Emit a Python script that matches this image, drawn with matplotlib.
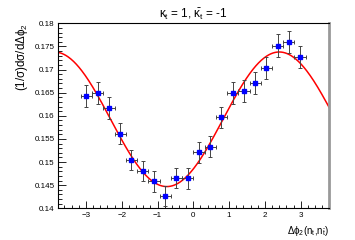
import numpy as np
import matplotlib
matplotlib.use("Agg")
import matplotlib.pyplot as plt
from matplotlib.ticker import MultipleLocator

plt.rcParams['font.family'] = ['Liberation Sans', 'DejaVu Sans']
plt.rcParams['mathtext.fontset'] = 'custom'
plt.rcParams['mathtext.rm'] = 'Liberation Sans'
plt.rcParams['mathtext.it'] = 'Liberation Sans'
plt.rcParams['mathtext.bf'] = 'Liberation Sans:bold'

# dane: 20 binow w dphi2 od -pi do pi
n_bins = 20
bin_edges = np.linspace(-np.pi, np.pi, n_bins + 1)
x_centers = 0.5 * (bin_edges[:-1] + bin_edges[1:])
x_err = 0.5 * np.diff(bin_edges)

y_vals = [0.1642, 0.1650, 0.1617, 0.1561, 0.1505, 0.1481, 0.1458, 0.1427,
          0.1465, 0.1465, 0.1521, 0.1533, 0.1597, 0.1650, 0.1654, 0.1671,
          0.1703, 0.1752, 0.1760, 0.1728]
y_err = [0.0024, 0.0024, 0.0023, 0.0023, 0.0022, 0.0022, 0.0022, 0.0022,
         0.0022, 0.0023, 0.0022, 0.0023, 0.0023, 0.0024, 0.0024, 0.0024,
         0.0024, 0.0024, 0.0024, 0.0024]

# parametry dopasowania: a - b*cos(x - phi0)
fit_a = 0.15925
fit_b = 0.01455
fit_phi0 = -0.74

x_min, x_max = -3.78, 3.80

fig = plt.figure(figsize=(3.55, 2.40), dpi=100)
ax = fig.add_axes([0.1634, 0.132, 0.9276 - 0.1634, 0.9029 - 0.132])

xf = np.linspace(x_min, x_max, 400)
ax.plot(xf, fit_a - fit_b * np.cos(xf - fit_phi0), color='#ff0000', lw=1.1, zorder=2)

ax.errorbar(x_centers, y_vals, xerr=x_err, yerr=y_err, fmt='s', ms=3.2,
            color='#0000ff', mec='#0000ff', ecolor='#444444', elinewidth=0.7,
            capsize=1.3, capthick=0.7, zorder=3)

ax.set_xlim(x_min, x_max)
ax.set_ylim(0.14, 0.18)

ax.xaxis.set_major_locator(MultipleLocator(1))
ax.xaxis.set_minor_locator(MultipleLocator(0.2))
ax.yaxis.set_major_locator(MultipleLocator(0.005))
ax.yaxis.set_minor_locator(MultipleLocator(0.001))
ax.yaxis.set_major_formatter(plt.FuncFormatter(lambda v, p: f'{v:g}'))

ax.tick_params(which='both', direction='in', top=False, right=False,
               labelsize=5.8, width=0.6, pad=2.5)
ax.tick_params(which='major', axis='x', length=5)
ax.tick_params(which='minor', axis='x', length=2.5)
ax.tick_params(which='major', axis='y', length=6)
ax.tick_params(which='minor', axis='y', length=3)

for s in ['left', 'bottom', 'top']:
    ax.spines[s].set_linewidth(0.8)
ax.spines['right'].set_color('#999999')
ax.spines['right'].set_linewidth(2.0)

ax.set_title(r'$\kappa_t$ = 1, $\bar{\kappa}_t$ = -1', fontsize=8.5, pad=4)
ax.set_ylabel(r'(1/$\sigma$)d$\sigma$/d$\Delta\phi_2$', fontsize=8.3, loc='top', labelpad=3)
ax.set_xlabel(r'$\Delta\phi_2$(n$_t$,n$_{\bar{t}}$)', fontsize=7.0, loc='right', labelpad=4)

fig.savefig('out.png', dpi=100)
